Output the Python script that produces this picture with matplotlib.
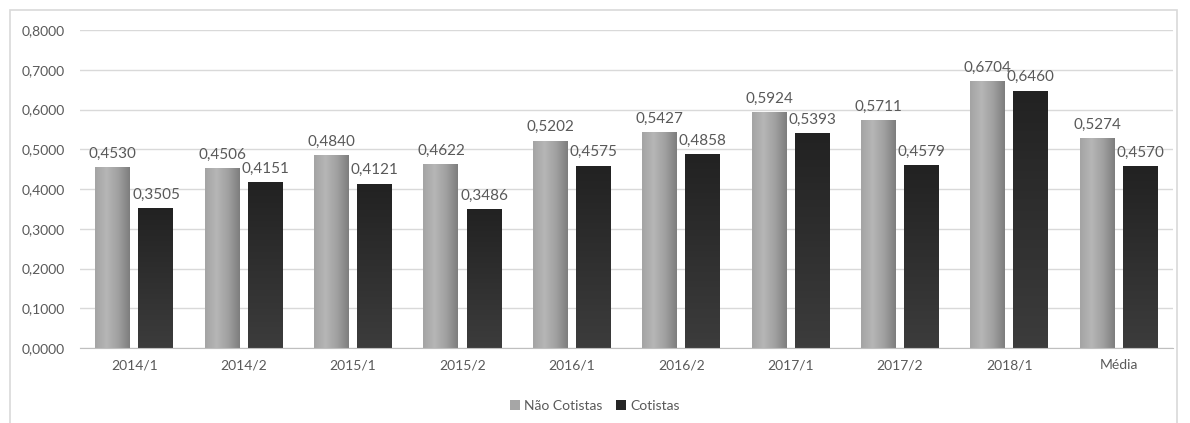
import numpy as np
import matplotlib.pyplot as plt
from matplotlib.patches import Rectangle, Patch
from matplotlib.colors import LinearSegmentedColormap

# semestres e índices
semestres = ["2014/1", "2014/2", "2015/1", "2015/2", "2016/1", "2016/2",
             "2017/1", "2017/2", "2018/1", "Média"]
nao_cotistas = [0.4530, 0.4506, 0.4840, 0.4622, 0.5202, 0.5427, 0.5924, 0.5711, 0.6704, 0.5274]
cotistas = [0.3505, 0.4151, 0.4121, 0.3486, 0.4575, 0.4858, 0.5393, 0.4579, 0.6460, 0.4570]

plt.rcParams["font.family"] = ["Lato", "DejaVu Sans"]
txt = "#595959"

fig = plt.figure(figsize=(11.9, 4.23), dpi=100)
ax = fig.add_axes([0.067, 0.177, 0.919, 0.752])

# moldura do gráfico
fig.patches.append(Rectangle((10 / 1190, -0.1), 1167 / 1190, 1.1 - 10 / 423,
                             transform=fig.transFigure, fill=False,
                             edgecolor="#d9d9d9", linewidth=1.2))

x = np.arange(len(semestres))
w = 0.32
off = 0.197

b1 = ax.bar(x - off, nao_cotistas, w, facecolor="none", edgecolor="none", zorder=3)
b2 = ax.bar(x + off, cotistas, w, facecolor="none", edgecolor="none", zorder=3)

# gradientes das barras
cm_light = LinearSegmentedColormap.from_list("light", ["#a4a4a4", "#b6b6b6", "#a0a0a0", "#7e7e7e"])
cm_dark = LinearSegmentedColormap.from_list("dark", ["#3c3c3c", "#222222"])
hgrad = np.linspace(0, 1, 64).reshape(1, -1)
vgrad = np.linspace(0, 1, 64).reshape(-1, 1)
for r in b1:
    x0, y0, bw, bh = r.get_x(), r.get_y(), r.get_width(), r.get_height()
    ax.imshow(hgrad, cmap=cm_light, extent=[x0, x0 + bw, y0, y0 + bh],
              aspect="auto", origin="lower", zorder=2)
for r in b2:
    x0, y0, bw, bh = r.get_x(), r.get_y(), r.get_width(), r.get_height()
    ax.imshow(vgrad, cmap=cm_dark, extent=[x0, x0 + bw, y0, y0 + bh],
              aspect="auto", origin="lower", zorder=2)

# rótulos de valores
for xi, v in zip(x - off, nao_cotistas):
    ax.annotate(f"{v:.4f}".replace(".", ","), (xi, v), xytext=(0, 5),
                textcoords="offset points", ha="center", va="bottom",
                fontsize=11, color=txt)
for xi, v in zip(x + off, cotistas):
    ax.annotate(f"{v:.4f}".replace(".", ","), (xi, v), xytext=(0, 5),
                textcoords="offset points", ha="center", va="bottom",
                fontsize=11, color=txt)

ax.set_xlim(-0.5, len(semestres) - 0.5)
ax.set_ylim(0, 0.8)
ax.set_yticks(np.arange(0, 0.81, 0.1))
ax.set_yticklabels([f"{t:.4f}".replace(".", ",") for t in np.arange(0, 0.81, 0.1)])
ax.set_xticks(x)
ax.set_xticklabels(semestres)
ax.tick_params(length=0, labelsize=10, colors=txt, pad=8)
ax.tick_params(axis="y", pad=11)
ax.grid(axis="y", color="#d9d9d9", linewidth=1, zorder=0)
ax.set_axisbelow(True)
for s in ["top", "right", "left"]:
    ax.spines[s].set_visible(False)
ax.spines["bottom"].set_color("#bfbfbf")

handles = [Patch(facecolor="#a6a6a6", label="Não Cotistas"),
           Patch(facecolor="#262626", label="Cotistas")]
fig.legend(handles=handles, loc="center", bbox_to_anchor=(0.5, 0.04), ncol=2,
           frameon=False, fontsize=10, labelcolor=txt, handlelength=0.7,
           handleheight=0.7, handletextpad=0.3, columnspacing=1.0)

fig.savefig("out.png", dpi=100)
